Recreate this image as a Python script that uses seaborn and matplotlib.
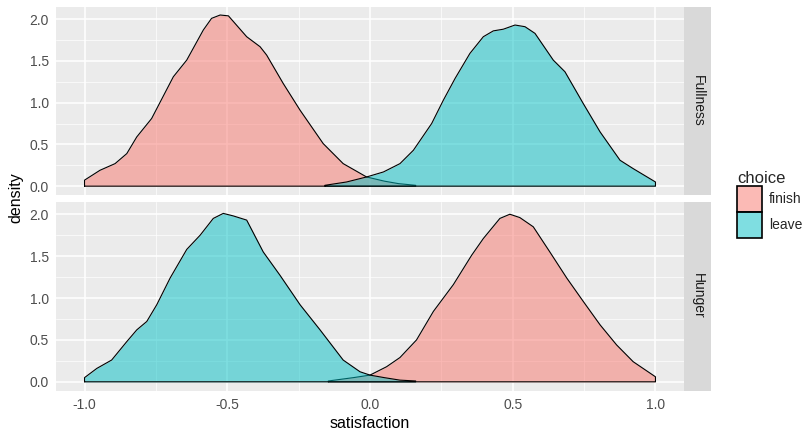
import numpy as np
import pandas as pd
import matplotlib
matplotlib.use("Agg")
import matplotlib.pyplot as plt
import seaborn as sns
from matplotlib.patches import Patch
from matplotlib.colors import to_rgba

# density curves
full_finish_x = [-1.0, -0.946, -0.893, -0.852, -0.817, -0.765, -0.689, -0.642, -0.584, -0.555,
                 -0.525, -0.496, -0.432, -0.385, -0.362, -0.304, -0.245, -0.164, -0.094, -0.012,
                 0.05, 0.1, 0.16]
full_finish_y = [0.072, 0.19, 0.27, 0.39, 0.59, 0.81, 1.31, 1.51, 1.87, 2.01,
                 2.05, 2.04, 1.79, 1.67, 1.57, 1.23, 0.91, 0.51, 0.27, 0.11,
                 0.06, 0.03, 0.01]
full_leave_x = [-0.158, -0.082, -0.012, 0.047, 0.105, 0.152, 0.216, 0.257, 0.298, 0.350,
                0.397, 0.432, 0.467, 0.508, 0.543, 0.578, 0.642, 0.683, 0.747, 0.806,
                0.876, 0.922, 1.0]
full_leave_y = [0.01, 0.05, 0.11, 0.17, 0.27, 0.43, 0.75, 1.03, 1.29, 1.59,
                1.79, 1.86, 1.88, 1.93, 1.91, 1.83, 1.51, 1.37, 0.99, 0.65,
                0.31, 0.21, 0.05]
hung_leave_x = [-1.0, -0.957, -0.905, -0.852, -0.817, -0.782, -0.747, -0.70, -0.642, -0.595,
                -0.549, -0.514, -0.479, -0.432, -0.374, -0.315, -0.245, -0.175, -0.094, -0.035,
                0.0, 0.05, 0.105, 0.16]
hung_leave_y = [0.05, 0.16, 0.26, 0.48, 0.62, 0.72, 0.92, 1.24, 1.58, 1.75,
                1.95, 2.01, 1.98, 1.93, 1.55, 1.27, 0.92, 0.62, 0.26, 0.12,
                0.08, 0.05, 0.02, 0.01]
hung_finish_x = [-0.146, -0.058, 0.0, 0.058, 0.105, 0.163, 0.222, 0.292, 0.356, 0.397,
                 0.455, 0.490, 0.525, 0.572, 0.630, 0.689, 0.747, 0.806, 0.864, 0.922, 1.0]
hung_finish_y = [0.01, 0.05, 0.08, 0.18, 0.29, 0.50, 0.84, 1.16, 1.51, 1.71,
                 1.95, 2.00, 1.96, 1.85, 1.55, 1.24, 0.96, 0.68, 0.44, 0.24, 0.06]

panels = ["Fullness", "Hunger"]
choices = ["finish", "leave"]
x_ticks = [-1.0, -0.5, 0.0, 0.5, 1.0]
y_ticks = [0.0, 0.5, 1.0, 1.5, 2.0]

curves = {
    ("Fullness", "finish"): (full_finish_x, full_finish_y),
    ("Fullness", "leave"): (full_leave_x, full_leave_y),
    ("Hunger", "finish"): (hung_finish_x, hung_finish_y),
    ("Hunger", "leave"): (hung_leave_x, hung_leave_y),
}
colors = {"finish": "#F8766D", "leave": "#00BFC4"}

sns.set_theme(style="darkgrid", rc={
    "axes.facecolor": "#EBEBEB",
    "grid.color": "white",
    "axes.edgecolor": "#EBEBEB",
})
plt.rcParams["font.family"] = ["Liberation Sans", "DejaVu Sans"]

W, H = 803, 434
fig = plt.figure(figsize=(W / 100, H / 100), dpi=100)

def fx(px):
    return px / W

def fy(py):
    return 1 - py / H

tops = [(7, 195), (202, 390.7)]
for i, panel in enumerate(panels):
    t, b = tops[i]
    ax = fig.add_axes([fx(56), fy(b), fx(684) - fx(56), fy(t) - fy(b)])
    for z, ch in enumerate(choices):
        xs, ys = curves[(panel, ch)]
        ax.fill_between(xs, 0, ys, color=colors[ch], alpha=0.5, linewidth=0, zorder=2 + 2 * z)
        cx = [xs[0]] + list(xs) + [xs[-1], xs[0]]
        cy = [0] + list(ys) + [0, 0]
        df = pd.DataFrame({"x": cx, "y": cy})
        sns.lineplot(data=df, x="x", y="y", sort=False, estimator=None, color="black",
                     linewidth=0.8, ax=ax, zorder=3 + 2 * z)
    ax.set_xlim(-1.1, 1.1)
    ax.set_ylim(-0.106, 2.146)
    ax.set_xticks(x_ticks)
    ax.set_yticks(y_ticks)
    ax.set_xticks([-0.75, -0.25, 0.25, 0.75], minor=True)
    ax.set_yticks([0.25, 0.75, 1.25, 1.75], minor=True)
    ax.grid(which="major", color="white", linewidth=1.1)
    ax.grid(which="minor", color="white", linewidth=0.5)
    ax.set_xlabel("")
    ax.set_ylabel("")
    ax.set_yticklabels([f"{v:.1f}" for v in y_ticks], color="#4D4D4D", fontsize=10)
    ax.tick_params(axis="both", which="major", length=3, width=0.8, color="#333333", pad=2)
    ax.tick_params(axis="both", which="minor", length=0)
    if i == 0:
        ax.tick_params(axis="x", which="both", length=0, labelbottom=False)
    else:
        ax.set_xticklabels([f"{v:.1f}" for v in x_ticks], color="#4D4D4D", fontsize=10)
    for s in ax.spines.values():
        s.set_visible(False)
    # facet strip
    sax = fig.add_axes([fx(684), fy(b), fx(711.5) - fx(684), fy(t) - fy(b)])
    sax.set_facecolor("#D9D9D9")
    sax.set_xticks([])
    sax.set_yticks([])
    sax.grid(False)
    for s in sax.spines.values():
        s.set_visible(False)
    sax.text(0.5, 0.5, panel, rotation=-90, ha="center", va="center", fontsize=10,
             color="#1A1A1A", transform=sax.transAxes)

fig.text(fx(16), fy(198), "density", rotation=90, ha="center", va="center", fontsize=11.5, color="black")
fig.text(fx(370), fy(424), "satisfaction", ha="center", va="center", fontsize=11.5, color="black")

handles = [Patch(facecolor=to_rgba(colors[c], 0.5), edgecolor="black", linewidth=1.2) for c in choices]
leg = fig.legend(handles, choices, title="choice", loc="upper left",
                 bbox_to_anchor=(fx(737), fy(171)), frameon=False, fontsize=10,
                 title_fontsize=12, handlelength=1.8, handleheight=2.5, labelspacing=0,
                 handletextpad=0.5, borderaxespad=0, borderpad=0)
leg._legend_box.align = "left"

fig.savefig("out.png", dpi=100)
